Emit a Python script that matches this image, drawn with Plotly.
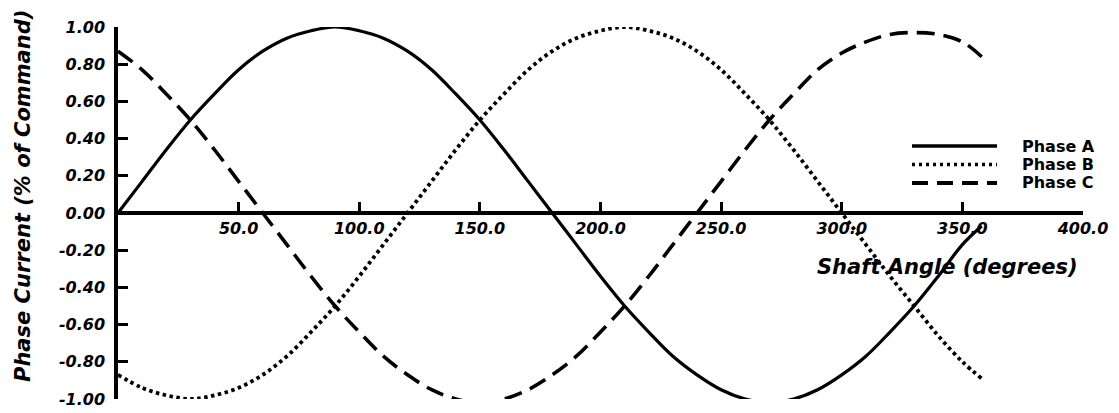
import plotly.graph_objects as go

# shaft angle samples (degrees) and phase currents
angle = [0, 10, 20, 30, 40, 50, 60, 70, 80, 90, 100, 110, 120, 130, 140, 150, 160, 170,
         180, 190, 200, 210, 220, 230, 240, 250, 260, 270, 280, 290, 300, 310, 320, 330,
         340, 350, 358]
phase_a = [0.00, 0.17, 0.34, 0.50, 0.64, 0.77, 0.87, 0.94, 0.98, 1.00, 0.98, 0.94, 0.87,
           0.77, 0.64, 0.50, 0.34, 0.17, 0.00, -0.17, -0.34, -0.50, -0.64, -0.77, -0.87,
           -0.95, -1.00, -1.02, -1.00, -0.95, -0.87, -0.77, -0.64, -0.50, -0.34, -0.17, -0.07]
phase_b = [-0.87, -0.94, -0.98, -1.00, -0.98, -0.94, -0.87, -0.77, -0.64, -0.50, -0.34,
           -0.17, 0.00, 0.17, 0.34, 0.50, 0.64, 0.77, 0.87, 0.94, 0.98, 1.00, 0.98, 0.94,
           0.87, 0.77, 0.64, 0.50, 0.34, 0.17, 0.00, -0.17, -0.34, -0.50, -0.66, -0.80, -0.89]
phase_c = [0.87, 0.77, 0.64, 0.50, 0.34, 0.17, 0.00, -0.17, -0.34, -0.50, -0.64, -0.77,
           -0.87, -0.95, -1.00, -1.02, -1.00, -0.95, -0.87, -0.77, -0.64, -0.50, -0.34,
           -0.17, 0.00, 0.17, 0.34, 0.50, 0.64, 0.77, 0.86, 0.92, 0.96, 0.97, 0.96, 0.92, 0.84]
series_names = ["Phase A", "Phase B", "Phase C"]

x_tick_vals = [50, 100, 150, 200, 250, 300, 350, 400]
x_tick_text = ["50.0", "100.0", "150.0", "200.0", "250.0", "300.0", "350.0", "400.0"]
y_tick_vals = [1.0, 0.8, 0.6, 0.4, 0.2, 0.0, -0.2, -0.4, -0.6, -0.8, -1.0]
y_tick_text = ["1.00", "0.80", "0.60", "0.40", "0.20", "0.00",
               "-0.20", "-0.40", "-0.60", "-0.80", "-1.00"]

FONT = "DejaVu Sans"
INK = "#000000"
W, H = 1119, 413
L, R, T, B = 118, 36, 27, 14
DASHES = ["solid", "3.5px,3.5px", "18px,9px"]
WIDTHS = [3.2, 3.8, 3.6]


def px(xp, yp):
    # page pixel -> paper coords, used for the text/legend placement only
    return (xp - L) / (W - L - R), (H - B - yp) / (H - T - B)


fig = go.Figure()
for name, ys, dash, w in zip(series_names, [phase_a, phase_b, phase_c], DASHES, WIDTHS):
    fig.add_trace(go.Scatter(
        x=angle, y=ys, mode="lines", name=name,
        line={"color": INK, "width": w, "dash": dash, "shape": "spline", "smoothing": 1.0},
        cliponaxis=False, showlegend=False,
    ))

tick_font = {"family": FONT, "size": 16, "color": INK, "weight": "bold", "style": "italic"}

fig.update_layout(
    width=W, height=H,
    margin={"l": L, "r": R, "t": T, "b": B, "autoexpand": False},
    paper_bgcolor="white", plot_bgcolor="white",
    xaxis={
        "range": [0, 400], "anchor": "free", "position": 0.5, "automargin": False,
        "showgrid": False, "zeroline": False,
        "showline": True, "linecolor": INK, "linewidth": 3.5,
        "ticks": "inside", "ticklen": 9, "tickwidth": 2.5, "tickcolor": INK,
        "tickvals": x_tick_vals, "ticktext": x_tick_text, "tickfont": tick_font,
        "ticklabelstandoff": 0,
    },
    yaxis={
        "range": [-1.0, 1.0], "domain": [0, 1], "automargin": False,
        "showgrid": False, "zeroline": False,
        "showline": True, "linecolor": INK, "linewidth": 3.5,
        "ticks": "inside", "ticklen": 10, "tickwidth": 3, "tickcolor": INK,
        "tickvals": y_tick_vals, "ticktext": y_tick_text, "tickfont": tick_font,
        "ticklabelstandoff": 6,
    },
)

title_font = {"family": FONT, "size": 21, "color": INK, "weight": "bold", "style": "italic"}
tx, ty = px(23, 196)
fig.add_annotation(
    text="Phase Current (% of Command)", xref="paper", yref="paper",
    x=tx, y=ty, xanchor="center", yanchor="middle",
    textangle=-90, showarrow=False, font=title_font,
)
tx, ty = px(1080, 267)
fig.add_annotation(
    text="Shaft Angle (degrees)", xref="paper", yref="paper",
    x=tx, y=ty, xanchor="right", yanchor="middle",
    showarrow=False, font=title_font,
)

# hand drawn legend block at the right
leg_font = {"family": FONT, "size": 16, "color": INK, "weight": "bold"}
leg_rows = [146, 164.5, 183]
for name, dash, w, yp in zip(series_names, ["solid", "3px,4px", "16px,9px"], [3.5, 3.5, 3.8], leg_rows):
    x0, yy = px(912, yp)
    x1, _ = px(997, yp)
    xt, _ = px(1020, yp)
    fig.add_shape(type="line", xref="paper", yref="paper",
                  x0=x0, x1=x1, y0=yy, y1=yy,
                  line={"color": INK, "width": w, "dash": dash})
    fig.add_annotation(text=name, xref="paper", yref="paper", x=xt, y=yy,
                       xanchor="left", yanchor="middle", showarrow=False, font=leg_font)

fig.write_html("out.html", config={"displayModeBar": False},
               post_script="document.body.style.margin='0px';")
